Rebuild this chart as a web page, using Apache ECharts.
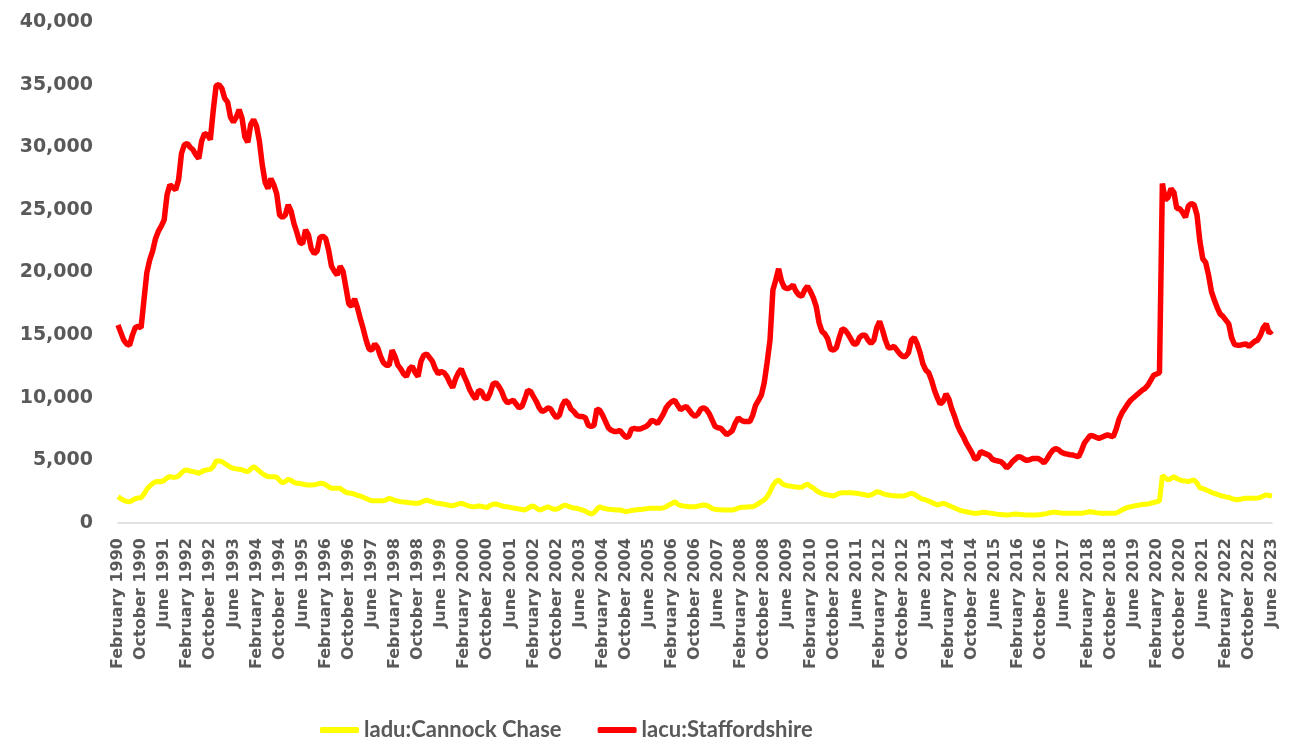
<!DOCTYPE html>
<html>
<head>
<meta charset="utf-8">
<script src="https://cdn.jsdelivr.net/npm/echarts@6.0.0/dist/echarts.min.js"></script>
<style>
  html, body { margin: 0; padding: 0; background: #fff; }
  #chart { width: 1298px; height: 739px; }
</style>
</head>
<body>
<div id="chart"></div>
<script>
// months Feb 1990 .. Jun 2023
const monthNames = ['January', 'February', 'March', 'April', 'May', 'June', 'July',
  'August', 'September', 'October', 'November', 'December'];
const startYear = 1990;
const startMonth = 1; // February
const monthCount = 401;

const months = [];
for (let i = 0; i < monthCount; i++) {
  const m = (startMonth + i) % 12;
  const y = startYear + Math.floor((startMonth + i) / 12);
  months.push(monthNames[m] + ' ' + y);
}

// ladu:Cannock Chase
const cannockChase = [
  2100, 1950, 1800, 1720, 1700, 1800, 1950, 2000, 2020, 2300,
  2700, 2950, 3150, 3300, 3320, 3300, 3400, 3600, 3700, 3650,
  3650, 3750, 4000, 4200, 4230, 4150, 4100, 4050, 3970, 4100,
  4200, 4250, 4280, 4500, 4950, 4950, 4900, 4750, 4600, 4450,
  4370, 4320, 4290, 4250, 4150, 4100, 4300, 4500, 4350, 4150,
  3950, 3800, 3700, 3700, 3700, 3650, 3400, 3220, 3300, 3490,
  3400, 3250, 3170, 3150, 3100, 3050, 3030, 3030, 3050, 3100,
  3170, 3150, 3050, 2900, 2780, 2770, 2770, 2770, 2600, 2450,
  2400, 2370, 2300, 2200, 2160, 2050, 1950, 1850, 1780, 1780,
  1780, 1780, 1780, 1850, 1970, 1900, 1800, 1750, 1700, 1680,
  1650, 1620, 1600, 1580, 1570, 1650, 1750, 1840, 1750, 1680,
  1600, 1570, 1530, 1500, 1450, 1400, 1380, 1450, 1520, 1570,
  1500, 1400, 1330, 1300, 1320, 1360, 1330, 1280, 1250, 1400,
  1500, 1520, 1450, 1380, 1320, 1300, 1250, 1200, 1170, 1120,
  1080, 1040, 1150, 1300, 1360, 1200, 1040, 1100, 1200, 1300,
  1200, 1100, 1090, 1200, 1350, 1440, 1350, 1250, 1200, 1170,
  1100, 1040, 950, 800, 720, 820, 1100, 1300, 1200, 1150,
  1100, 1080, 1060, 1040, 1040, 980, 900, 950, 1000, 1040,
  1060, 1080, 1100, 1130, 1170, 1170, 1170, 1170, 1170, 1200,
  1300, 1440, 1550, 1700, 1500, 1400, 1360, 1330, 1300, 1300,
  1300, 1350, 1400, 1440, 1420, 1300, 1150, 1090, 1060, 1050,
  1040, 1040, 1040, 1040, 1100, 1200, 1250, 1250, 1280, 1300,
  1300, 1400, 1550, 1700, 1850, 2100, 2500, 3000, 3300, 3430,
  3200, 3030, 2980, 2950, 2900, 2880, 2860, 2850, 3000, 3110,
  2920, 2800, 2600, 2450, 2350, 2280, 2240, 2200, 2160, 2250,
  2380, 2420, 2420, 2420, 2420, 2400, 2370, 2330, 2300, 2250,
  2200, 2240, 2350, 2500, 2450, 2350, 2280, 2240, 2200, 2180,
  2160, 2160, 2160, 2200, 2300, 2370, 2300, 2150, 2000, 1900,
  1840, 1750, 1650, 1550, 1440, 1500, 1570, 1500, 1400, 1300,
  1200, 1100, 1000, 950, 900, 850, 800, 770, 780, 820,
  850, 830, 800, 770, 730, 700, 680, 660, 640, 660,
  690, 720, 700, 670, 650, 640, 640, 640, 640, 650,
  680, 720, 750, 820, 850, 850, 820, 790, 770, 770,
  770, 770, 770, 770, 770, 820, 870, 900, 880, 830,
  800, 770, 770, 770, 770, 770, 800, 900, 1040, 1150,
  1250, 1300, 1350, 1400, 1440, 1470, 1500, 1520, 1580, 1640,
  1700, 1750, 3800, 3600, 3430, 3550, 3700, 3550, 3450, 3380,
  3350, 3300, 3380, 3430, 3200, 2800, 2750, 2650, 2550, 2450,
  2350, 2300, 2200, 2150, 2080, 2050, 1950, 1900, 1850, 1900,
  1950, 1970, 1970, 1970, 1970, 2000, 2050, 2150, 2250, 2200,
  2160
];

// lacu:Staffordshire
const staffordshire = [
  15800, 15200, 14600, 14300, 14200, 15000, 15600, 15700, 15600, 17800,
  20000, 21000, 21700, 22700, 23300, 23700, 24200, 26200, 27000, 26800,
  26600, 27400, 29500, 30200, 30300, 30000, 29800, 29400, 29100, 30500,
  31100, 31000, 30600, 32900, 34900, 35000, 34700, 33900, 33600, 32400,
  32000, 32400, 33000, 32300, 30800, 30400, 31800, 32200, 31700, 30500,
  28600, 27200, 26700, 27500, 27000, 26300, 24600, 24400, 24600, 25400,
  24900, 23900, 23200, 22400, 22300, 23400, 23000, 21900, 21500, 21700,
  22800, 22900, 22700, 21800, 20500, 20100, 19800, 20500, 20100, 18800,
  17500, 17300, 17900, 17200, 16300, 15500, 14600, 13900, 13800, 14300,
  14000, 13300, 12800, 12600, 12600, 13800, 13300, 12600, 12300, 11900,
  11700, 12300, 12500, 12000, 11700, 12900, 13400, 13500, 13200, 12900,
  12300, 11900, 12100, 12000, 11700, 11200, 10800, 11500, 12000, 12300,
  11700, 11200, 10600, 10200, 9900, 10600, 10500, 10000, 9900, 10400,
  11100, 11200, 10900, 10500, 9900, 9600, 9700, 9800, 9500, 9200,
  9300, 9900, 10600, 10500, 10100, 9700, 9200, 8900, 9000, 9200,
  9100, 8700, 8400, 8600, 9400, 9800, 9600, 9100, 8900, 8600,
  8500, 8500, 8400, 7800, 7700, 7800, 9100, 9000, 8600, 8100,
  7600, 7400, 7300, 7300, 7400, 7100, 6850, 6900, 7500, 7550,
  7500, 7500, 7600, 7700, 7900, 8200, 8100, 7950, 8300, 8700,
  9200, 9500, 9700, 9800, 9400, 9050, 9200, 9300, 9000, 8700,
  8500, 8700, 9100, 9200, 9050, 8700, 8200, 7700, 7600, 7550,
  7300, 7050, 7200, 7400, 8000, 8400, 8200, 8100, 8100, 8100,
  8600, 9400, 9800, 10200, 11200, 12800, 14600, 18600, 19400, 20300,
  19300, 18800, 18700, 18800, 19000, 18500, 18200, 18100, 18600, 18900,
  18500, 18000, 17300, 16000, 15300, 15100, 14700, 13900, 13800, 14000,
  14800, 15500, 15400, 15100, 14700, 14300, 14300, 14800, 15000, 15000,
  14600, 14350, 14600, 15600, 16100, 15400, 14600, 14000, 14000, 14100,
  13800, 13500, 13300, 13300, 13600, 14600, 14800, 14300, 13600, 12700,
  12200, 12000, 11400, 10600, 10000, 9500, 9700, 10300, 9900, 9100,
  8500, 7800, 7300, 6900, 6400, 6000, 5600, 5100, 5200, 5700,
  5600, 5500, 5400, 5100, 5000, 4950, 4900, 4700, 4400, 4600,
  4900, 5100, 5300, 5250, 5100, 5000, 5050, 5150, 5150, 5150,
  5000, 4800, 5100, 5500, 5800, 5950, 5850, 5650, 5550, 5500,
  5450, 5430, 5350, 5300, 5800, 6400, 6700, 7000, 6950, 6850,
  6760, 6850, 6950, 7030, 6950, 6900, 7500, 8300, 8800, 9150,
  9500, 9800, 10000, 10200, 10400, 10600, 10750, 11000, 11400, 11800,
  11900, 12000, 27100, 25800, 26000, 26700, 26400, 25100, 25100, 24800,
  24400, 25300, 25500, 25400, 24600, 22500, 21100, 20800, 19800, 18500,
  17800, 17200, 16700, 16500, 16200, 15900, 14800, 14250, 14200, 14200,
  14250, 14300, 14100, 14300, 14500, 14600, 15000, 15600, 15900, 15150,
  15350
];

const yMin = 0;
const yMax = 40000;
const yStep = 5000;

const textGrey = '#595959';

const myChart = echarts.init(document.getElementById('chart'));
let option;

option = {
  animation: false,
  backgroundColor: '#ffffff',
  grid: {
    left: 118,
    right: 26,
    top: 22,
    bottom: 216
  },
  legend: {
    left: 315,
    top: 714,
    icon: 'roundRect',
    itemWidth: 39,
    itemHeight: 6,
    itemGap: 36,
    textStyle: {
      fontFamily: 'Lato, "Open Sans", sans-serif',
      fontWeight: 'bold',
      fontSize: 22,
      color: textGrey
    },
    data: ['ladu:Cannock Chase', 'lacu:Staffordshire']
  },
  xAxis: {
    type: 'category',
    boundaryGap: false,
    data: months,
    axisLine: { lineStyle: { color: '#d9d9d9', width: 1.5 } },
    axisTick: { show: false },
    axisLabel: {
      interval: 7,
      rotate: 90,
      margin: 15,
      color: textGrey,
      fontFamily: '"DejaVu Sans", sans-serif',
      fontWeight: 'bold',
      fontSize: 16
    },
    splitLine: { show: false }
  },
  yAxis: {
    type: 'value',
    min: yMin,
    max: yMax,
    interval: yStep,
    axisLine: { show: false },
    axisTick: { show: false },
    splitLine: { show: false },
    axisLabel: {
      margin: 25,
      color: textGrey,
      fontFamily: '"DejaVu Sans", sans-serif',
      fontWeight: 'bold',
      fontSize: 19,
      formatter: function (v) {
        return v.toLocaleString('en-GB');
      }
    }
  },
  series: [
    {
      name: 'ladu:Cannock Chase',
      type: 'line',
      data: cannockChase,
      showSymbol: false,
      symbol: 'none',
      color: '#ffff00',
      lineStyle: { color: '#ffff00', width: 5 }
    },
    {
      name: 'lacu:Staffordshire',
      type: 'line',
      data: staffordshire,
      showSymbol: false,
      symbol: 'none',
      color: '#ff0000',
      lineStyle: { color: '#ff0000', width: 5.5 }
    }
  ]
};

option && myChart.setOption(option);
</script>
</body>
</html>
